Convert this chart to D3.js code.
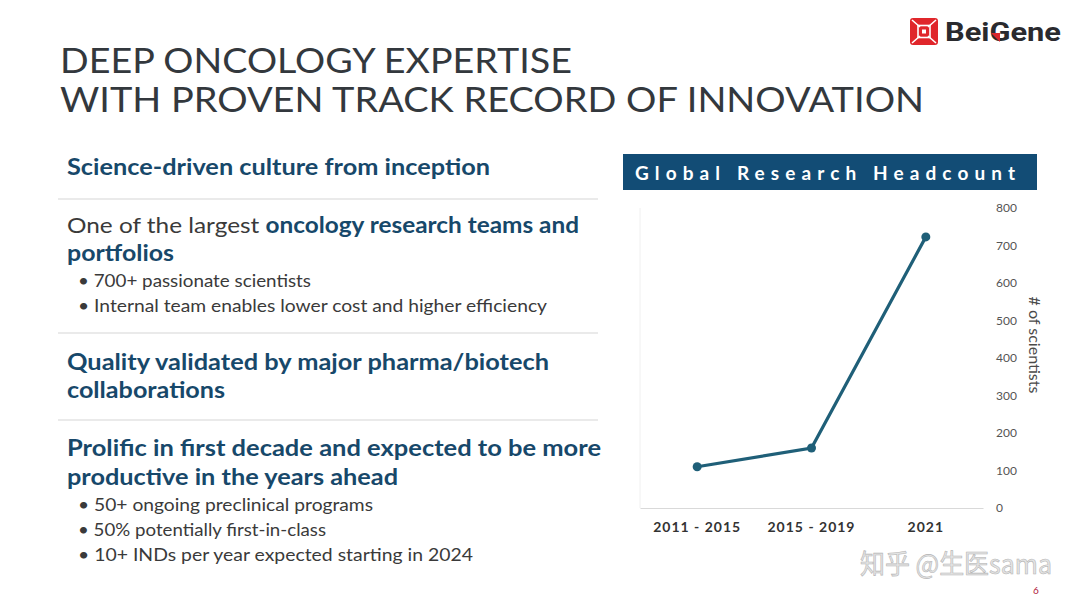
<!DOCTYPE html>
<html><head><meta charset="utf-8">
<script src="https://cdn.jsdelivr.net/npm/d3@7/dist/d3.min.js"></script>
<style>
html,body{margin:0;padding:0;background:#fff;}
svg{display:block;}
</style></head>
<body>
<svg id="c" width="1080" height="608"></svg>
<script>
// ---- data ----
const categories = ["2011 - 2015", "2015 - 2019", "2021"];
const scientists = [110, 160, 723];
const yTicks = [0, 100, 200, 300, 400, 500, 600, 700, 800];
const chartTitle = "Global Research Headcount";
const yAxisLabel = "# of scientists";

const svg = d3.select("#c");
const FONT = "Lato, 'Open Sans', sans-serif";

// ---- slide title ----
svg.append("text").attr("x", 60).attr("y", 73)
  .attr("textLength", 512).attr("lengthAdjust", "spacingAndGlyphs")
  .style("font-family", FONT).style("font-size", "34px").attr("fill", "#33383d")
  .text("DEEP ONCOLOGY EXPERTISE");
svg.append("text").attr("x", 60).attr("y", 112)
  .attr("textLength", 864).attr("lengthAdjust", "spacingAndGlyphs")
  .style("font-family", FONT).style("font-size", "34px").attr("fill", "#33383d")
  .text("WITH PROVEN TRACK RECORD OF INNOVATION");

// ---- logo ----
const logo = svg.append("g");
logo.append("rect").attr("x", 910).attr("y", 18).attr("width", 28).attr("height", 27).attr("rx", 3).attr("fill", "#e0262b");
logo.append("rect").attr("x", 918).attr("y", 25.5).attr("width", 12).attr("height", 12).attr("fill", "none").attr("stroke", "#fff").attr("stroke-width", 1.6);
logo.append("path").attr("d", "M912,20 L920,27 M936,20 L928,27 M912,43 L920,36 M936,43 L928,36")
  .attr("stroke", "#fff").attr("stroke-width", 1.6);
logo.append("rect").attr("x", 922).attr("y", 29.5).attr("width", 4).attr("height", 4).attr("fill", "#fff");
const lt = logo.append("text").attr("x", 945).attr("y", 41)
  .style("font-family", "Roboto, sans-serif").style("font-weight", "700").style("font-size", "25px").attr("fill", "#2a2a2e")
  .attr("textLength", 116).attr("lengthAdjust", "spacingAndGlyphs");
lt.append("tspan").text("Bei");
lt.append("tspan").attr("fill", "#2a2a2e").text("G");
lt.append("tspan").text("ene");
// red arrow accent inside the G
logo.append("path").attr("d", "M991,33 L1000,33 L1000,42 Z").attr("fill", "#d8262b");

// ---- left text block ----
const HEAD = "#17486a", BODY = "#3a3a3a";
function line(x, y, parts, size, len) {
  const t = svg.append("text").attr("x", x).attr("y", y)
    .style("font-family", FONT).style("font-size", size + "px");
  if (len) t.attr("textLength", len).attr("lengthAdjust", "spacingAndGlyphs");
  parts.forEach(p => t.append("tspan").attr("fill", p[1] ? HEAD : BODY)
    .style("font-weight", p[1] ? "700" : "400").text(p[0]));
}
line(67, 175, [["Science-driven culture from inception", true]], 22, 423);
line(67, 233, [["One of the largest ", false], ["oncology research teams and", true]], 22, 512);
line(67, 261, [["portfolios", true]], 22, 107);
line(78, 287, [["• 700+ passionate scientists", false]], 18, 233);
line(78, 312, [["• Internal team enables lower cost and higher efficiency", false]], 18, 469);
line(67, 370, [["Quality validated by major pharma/biotech", true]], 22, 482);
line(67, 398, [["collaborations", true]], 22, 158);
line(67, 456, [["Prolific in first decade and expected to be more", true]], 22, 534);
line(67, 485, [["productive in the years ahead", true]], 22, 331);
line(78, 511, [["• 50+ ongoing preclinical programs", false]], 18, 295);
line(78, 536, [["• 50% potentially first-in-class", false]], 18, 248);
line(78, 561, [["• 10+ INDs per year expected starting in 2024", false]], 18, 395);

[199, 333, 420].forEach(y => svg.append("line").attr("x1", 58).attr("x2", 598).attr("y1", y).attr("y2", y)
  .attr("stroke", "#d6d6d6").attr("stroke-width", 1.2));

// ---- chart header ----
svg.append("rect").attr("x", 623).attr("y", 154).attr("width", 414).attr("height", 36).attr("fill", "#124c75");
svg.append("text").attr("x", 635).attr("y", 180)
  .attr("textLength", 380).attr("lengthAdjust", "spacing")
  .style("font-family", FONT).style("font-weight", "700").style("font-size", "19px").attr("fill", "#fff")
  .text(chartTitle);

// ---- chart ----
const x = d3.scaleBand().domain(categories).range([640, 983]);
const y = d3.scaleLinear().domain([0, 800]).range([508, 208]);

// faint plot border
svg.append("line").attr("x1", 640).attr("x2", 640).attr("y1", y(800)).attr("y2", y(0)).attr("stroke", "#f0f0f0");

const yAxis = svg.append("g").attr("transform", "translate(990,0)")
  .call(d3.axisRight(y).tickValues(yTicks).tickSize(0).tickPadding(6));
yAxis.select(".domain").remove();
yAxis.selectAll("text").style("font-family", FONT).style("font-size", "12px").attr("fill", "#555");

const xAxis = svg.append("g").attr("transform", `translate(0,${y(0)})`)
  .call(d3.axisBottom(x).tickSize(0).tickPadding(14));
xAxis.select(".domain").attr("stroke", "#d9d9d9").attr("stroke-width", 1.2);
xAxis.selectAll("text").style("font-family", FONT).style("font-weight", "700").style("font-size", "14px")
  .style("letter-spacing", "1px").attr("fill", "#333");

svg.append("text").attr("transform", "translate(1029,345) rotate(90)").attr("text-anchor", "middle")
  .style("font-family", FONT).style("font-size", "16px").attr("fill", "#4a4a4a").text(yAxisLabel);

const cx = d => x(d) + x.bandwidth() / 2;
const pts = categories.map((c, i) => [cx(c), y(scientists[i])]);
svg.append("path").attr("d", d3.line()(pts)).attr("fill", "none").attr("stroke", "#1f5f78").attr("stroke-width", 3.2);
svg.selectAll("circle.p").data(pts).enter().append("circle").attr("class", "p")
  .attr("cx", d => d[0]).attr("cy", d => d[1]).attr("r", 4.5).attr("fill", "#1f5f78");

// ---- watermark & page number ----
svg.append("text").attr("x", 860).attr("y", 574)
  .style("font-family", "'Noto Sans CJK SC', sans-serif").style("font-size", "27px")
  .attr("fill", "#e4e4e4").attr("stroke", "#b5b5b5").attr("stroke-width", 0.6)
  .attr("textLength", 192).attr("lengthAdjust", "spacingAndGlyphs")
  .text("知乎 @生医sama");
svg.append("text").attr("x", 1033).attr("y", 594)
  .style("font-family", FONT).style("font-size", "10px").attr("fill", "#b0203a").text("6");
</script>
</body></html>
